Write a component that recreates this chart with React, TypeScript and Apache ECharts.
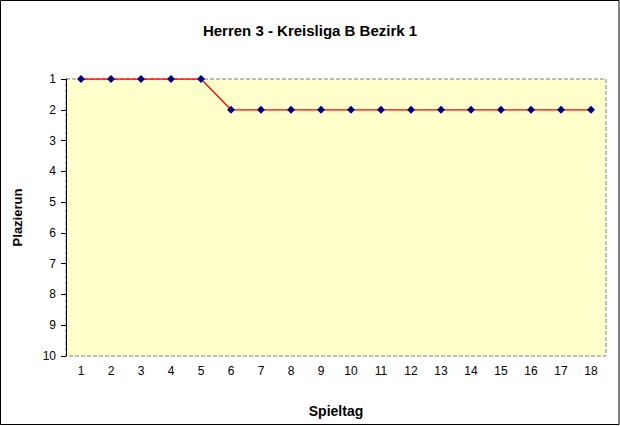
import React, { useRef, useEffect } from 'react';
import * as echarts from 'echarts';

const spieltage = ['1', '2', '3', '4', '5', '6', '7', '8', '9', '10', '11', '12', '13', '14', '15', '16', '17', '18'];
const platzierung = [1, 1, 1, 1, 1, 2, 2, 2, 2, 2, 2, 2, 2, 2, 2, 2, 2, 2];

const font = 'Arial, "Liberation Sans", sans-serif';

const App: React.FC = () => {
  const chartRef = useRef<HTMLDivElement>(null);

  useEffect(() => {
    document.body.style.margin = '0';
    if (!chartRef.current) return;
    const myChart = echarts.init(chartRef.current, null, { renderer: 'svg' });

    const option = {
      animation: false,
      backgroundColor: '#ffffff',
      title: {
        text: 'Herren 3 - Kreisliga B Bezirk 1',
        left: 'center',
        top: 18,
        textStyle: { fontFamily: font, fontSize: 15, fontWeight: 'bold', color: '#000' }
      },
      grid: {
        left: 66,
        right: 14,
        top: 79,
        bottom: 70,
        outerBoundsMode: 'none',
        containLabel: false,
        show: true,
        backgroundColor: '#FFFFCC',
        borderColor: '#808080',
        borderWidth: 1,
        borderType: 'dashed'
      },
      xAxis: {
        type: 'category',
        data: spieltage,
        boundaryGap: true,
        name: 'Spieltag',
        nameLocation: 'middle',
        nameGap: 48,
        nameTextStyle: { fontFamily: font, fontSize: 14, fontWeight: 'bold', color: '#000' },
        axisLine: { show: false },
        axisTick: { show: false },
        axisLabel: { fontFamily: font, fontSize: 12, color: '#000', margin: 9 },
        splitLine: { show: false }
      },
      yAxis: {
        type: 'value',
        inverse: true,
        min: 1,
        max: 10,
        interval: 1,
        name: 'Plazierun',
        nameLocation: 'middle',
        nameGap: 42,
        nameTextStyle: { fontFamily: font, fontSize: 13, fontWeight: 'bold', color: '#000' },
        axisLine: { show: true, lineStyle: { color: '#000', width: 1 } },
        axisTick: { show: true, inside: false, length: 5, lineStyle: { color: '#000' } },
        axisLabel: { fontFamily: font, fontSize: 12, color: '#000', margin: 10 },
        splitLine: { show: false }
      },
      graphic: [
        {
          type: 'rect',
          shape: { x: 0.5, y: 0.5, width: 618.5, height: 424 },
          style: { fill: 'none', stroke: '#000', lineWidth: 1 },
          silent: true,
          z: 100
        }
      ],
      series: [
        {
          type: 'line',
          data: platzierung,
          symbol: 'diamond',
          symbolSize: 8,
          z: 5,
          itemStyle: { color: '#000080' },
          lineStyle: { color: '#FF0000', width: 1.3 }
        }
      ]
    };

    myChart.setOption(option as echarts.EChartsOption);

    return () => {
      myChart.dispose();
    };
  }, []);

  return <div ref={chartRef} style={{ width: '620px', height: '426px' }} />;
};

export default App;
